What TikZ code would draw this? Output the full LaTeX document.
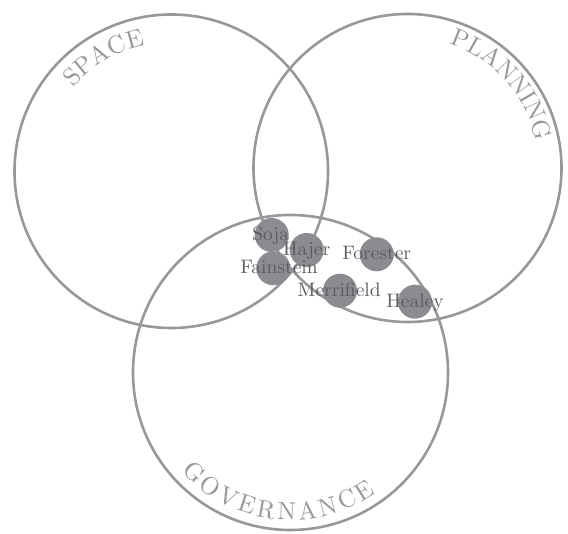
\documentclass[tikz,border=0pt]{standalone}
\usepackage{fontspec}
\setmainfont{lmroman10-regular.otf}
\usetikzlibrary{decorations.text}
\definecolor{lineagrigia}{RGB}{152,152,156}
\definecolor{bollagrigia}{RGB}{140,140,144}
\definecolor{testogrigio}{RGB}{92,92,96}
\newcommand{\fontnomi}{\fontsize{19.5}{20}\selectfont}
\newcommand{\fonttitoli}{\fontsize{25}{26}\selectfont}

\begin{document}
\begin{tikzpicture}[x = 1pt, y = 1pt,
    cerchio/.style = {draw = lineagrigia, line width = 2.6pt},
    bolla/.style = {circle, fill = bollagrigia, minimum size = 34pt, inner sep = 0pt},
    nome/.style = {font = \fontnomi, text = testogrigio, inner sep = 0pt, text height = 13.3pt, text depth = 0pt, yshift = 1pt},
    titolo/.style = {decorate, decoration = {text along path, text align = center, text color = lineagrigia, text = {|\fonttitoli|#1}}}]
    \useasboundingbox (0,0) rectangle (568,534);
    \pgfmathsetmacro{\rspace}{156.75}
    \pgfmathsetmacro{\rplanning}{154}
    \pgfmathsetmacro{\rgovernance}{157.5}
    % Cerchi
    \coordinate (space) at (171.25,362.75);
    \coordinate (planning) at (407.5,366);
    \coordinate (governance) at (290.5,161.5);
    \draw[cerchio] (space) circle[radius = \rspace];
    \draw[cerchio] (planning) circle[radius = \rplanning];
    \draw[cerchio] (governance) circle[radius = \rgovernance];
    % Titoli
    \path[titolo = SPACE] ([shift = {(140.1:128.5)}]space) arc[start angle = 140.1, end angle = 101.2, radius = 128.5];
    \path[titolo = PLANNING] ([shift = {(73.2:131)}]planning) arc[start angle = 73.2, end angle = 9.7, radius = 131];
    \path[titolo = GOVERNANCE, decoration = {text align = {fit to path}}] ([shift = {(222.2:147.5)}]governance) arc[start angle = 222.2, end angle = 305.3, radius = 147.5];
    % Bolle
    \node[bolla] (soja) at (271.7,299) {};
    \node[bolla] (hajer) at (306.7,284) {};
    \node[bolla] (fainstein) at (273.3,265.7) {};
    \node[bolla] (forester) at (376.7,279.7) {};
    \node[bolla] (merrifield) at (340,243.3) {};
    \node[bolla] (healey) at (415,232.3) {};
    % Nomi
    \node[nome, xshift = -1pt] (soja-n) at (soja) {Soja};
    \node[nome] (hajer-n) at (hajer) {Hajer};
    \node[nome, xshift = 5.7pt] (fainstein-n) at (fainstein) {Fainstein};
    \node[nome] (forester-n) at (forester) {Forester};
    \node[nome, xshift = -0.8pt] (merrifield-n) at (merrifield) {Merrifield};
    \node[nome] (healey-n) at (healey) {Healey};
\end{tikzpicture}
\end{document}
